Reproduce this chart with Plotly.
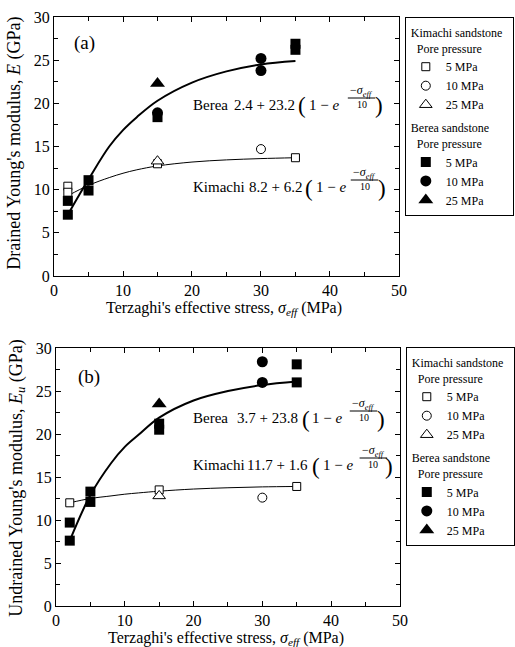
import plotly.graph_objects as go

W, H = 515, 647
SERIF = "Liberation Serif, Times New Roman, serif"

# ---------------- data ----------------
pore_labels = ["5 MPa", "10 MPa", "25 MPa"]

# Panel (a): drained Young's modulus E (GPa)
a_kim5_x = [2, 2, 15, 35]
a_kim5_y = [10.4, 9.7, 13.0, 13.7]
a_kim10_x = [30]
a_kim10_y = [14.7]
a_kim25_x = [15]
a_kim25_y = [13.3]
a_ber5_x = [2, 2, 5, 5, 15, 35, 35]
a_ber5_y = [8.7, 7.1, 11.1, 9.9, 18.4, 26.9, 26.2]
a_ber10_x = [15, 30, 30]
a_ber10_y = [18.9, 25.2, 23.8]
a_ber25_x = [15]
a_ber25_y = [22.3]

# Panel (b): undrained Young's modulus Eu (GPa)
b_kim5_x = [2, 15, 35]
b_kim5_y = [12.0, 13.5, 13.9]
b_kim10_x = [30]
b_kim10_y = [12.6]
b_kim25_x = [15]
b_kim25_y = [12.8]
b_ber5_x = [2, 2, 5, 5, 15, 15, 35, 35]
b_ber5_y = [9.7, 7.6, 13.3, 12.1, 21.2, 20.5, 28.1, 26.0]
b_ber10_x = [30, 30]
b_ber10_y = [28.4, 26.0]
b_ber25_x = [15]
b_ber25_y = [23.5]

# fitted curves
fit_x = [2, 5, 8, 10, 12, 15, 20, 25, 30, 35]
a_kim_fit_y = [9.3, 10.5, 11.4, 11.9, 12.3, 12.75, 13.2, 13.45, 13.6, 13.7]
a_ber_fit_y = [7.1, 11.2, 15.0, 16.9, 18.4, 20.3, 22.4, 23.7, 24.5, 24.9]
b_kim_fit_y = [12.0, 12.5, 12.8, 13.0, 13.15, 13.35, 13.6, 13.75, 13.85, 13.9]
b_ber_fit_y = [7.6, 12.9, 16.6, 18.5, 19.9, 21.9, 23.9, 25.0, 25.7, 26.1]

# formula texts
a_ber_label, a_ber_nums = "Berea", "2.4 + 23.2"
a_kim_label, a_kim_nums = "Kimachi", "8.2 + 6.2"
b_ber_label, b_ber_nums = "Berea", "3.7 + 23.8"
b_kim_label, b_kim_nums = "Kimachi", "11.7 + 1.6"


def px(x):
    return x / W


def py(y):
    return 1 - y / H


fig = go.Figure()

# ---- fitted curves ----
for xa, ya, yv, wdt in [("x", "y", a_kim_fit_y, 1), ("x", "y", a_ber_fit_y, 2),
                        ("x2", "y2", b_kim_fit_y, 1), ("x2", "y2", b_ber_fit_y, 2)]:
    fig.add_trace(go.Scatter(x=fit_x, y=yv, xaxis=xa, yaxis=ya, mode="lines",
                             line=dict(color="black", width=wdt, shape="spline", smoothing=1.0),
                             showlegend=False, hoverinfo="skip"))

symbols = ["square", "circle", "triangle-up"]
sizes = [9, 10, 12]

panels = [
    ("x", "y", "legend",
     [(a_kim5_x, a_kim5_y), (a_kim10_x, a_kim10_y), (a_kim25_x, a_kim25_y)],
     [(a_ber5_x, a_ber5_y), (a_ber10_x, a_ber10_y), (a_ber25_x, a_ber25_y)]),
    ("x2", "y2", "legend2",
     [(b_kim5_x, b_kim5_y), (b_kim10_x, b_kim10_y), (b_kim25_x, b_kim25_y)],
     [(b_ber5_x, b_ber5_y), (b_ber10_x, b_ber10_y), (b_ber25_x, b_ber25_y)]),
]

gt_font = dict(family=SERIF, size=12, color="black")
for xa, ya, leg, kim, ber in panels:
    for i, (xs, ys) in enumerate(kim):
        fig.add_trace(go.Scatter(
            x=xs, y=ys, xaxis=xa, yaxis=ya, mode="markers", name=pore_labels[i],
            legend=leg, legendgroup="kim" + leg,
            legendgrouptitle=dict(text="Kimachi sandstone<br>\u00a0\u00a0Pore pressure", font=gt_font) if i == 0 else None,
            marker=dict(symbol=symbols[i], size=sizes[i] - 1,
                        color="white", line=dict(color="black", width=1))))
    for i, (xs, ys) in enumerate(ber):
        fig.add_trace(go.Scatter(
            x=xs, y=ys, xaxis=xa, yaxis=ya, mode="markers", name=pore_labels[i],
            legend=leg, legendgroup="ber" + leg,
            legendgrouptitle=dict(text="Berea sandstone<br>\u00a0\u00a0Pore pressure", font=gt_font) if i == 0 else None,
            marker=dict(symbol=symbols[i], size=sizes[i] + 1,
                        color="black", line=dict(color="black", width=0))))

tickfont = dict(family=SERIF, size=16, color="black")
common = dict(showline=True, linecolor="black", linewidth=1, mirror="ticks",
              ticks="inside", ticklen=5, tickcolor="black", showgrid=False,
              zeroline=False, tickfont=tickfont, automargin=False)
xcommon = dict(common, range=[0, 50], tick0=0, dtick=10,
               minor=dict(dtick=5, ticks="inside", ticklen=4, tickcolor="black"))
ycommon = dict(common, range=[0, 30], tick0=0, dtick=5,
               minor=dict(dtick=2.5, ticks="inside", ticklen=4, tickcolor="black"))

legend_common = dict(font=dict(family=SERIF, size=12, color="black"), bgcolor="white",
                     bordercolor="black", borderwidth=1, xanchor="left", yanchor="top",
                     tracegroupgap=4, traceorder="grouped")

fig.update_layout(
    width=W, height=H, margin=dict(l=0, r=0, t=0, b=0),
    paper_bgcolor="white", plot_bgcolor="white",
    xaxis=dict(xcommon, domain=[px(55), px(406)], anchor="y"),
    yaxis=dict(ycommon, domain=[py(276), py(17)], anchor="x"),
    xaxis2=dict(xcommon, domain=[px(57), px(407)], anchor="y2"),
    yaxis2=dict(ycommon, domain=[py(606), py(348)], anchor="x2"),
    legend=dict(legend_common, x=px(412), y=py(17)),
    legend2=dict(legend_common, x=px(413), y=py(347)),
)

ann = []
shapes = []


def text(t, x, y, size=15, xanchor="center", angle=0, family=SERIF):
    ann.append(dict(text=t, x=px(x), y=py(y), xref="paper", yref="paper",
                    xanchor=xanchor, yanchor="middle", showarrow=False, textangle=angle,
                    font=dict(family=family, size=size, color="black")))


# axis titles
xt = "Terzaghi's effective stress, <i>σ<sub>eff</sub></i> (MPa)"
text(xt, 228, 308, size=16)
text(xt, 230, 638, size=16)
text("Drained Young's modulus, <i>E</i> (GPa)", 15, 143, size=18, angle=-90)
text("Undrained Young's modulus, <i>E<sub>u</sub></i> (GPa)", 17, 478, size=18, angle=-90)

# panel labels
text("(a)", 86, 43, size=19)
text("(b)", 91, 377, size=19)


def formula(label, nums, y, nums_right, paren_l, one_left, frac_c, paren_r):
    text(label, 194, y, xanchor="left")
    text(nums, nums_right, y, size=15, xanchor="right")
    text("(", paren_l, y + 1, size=23)
    text("1 − <i>e</i>", one_left, y, xanchor="left")
    text("−<i>σ</i><sub><i>eff</i></sub>", frac_c, y - 14, size=12)
    text("10", frac_c, y - 1, size=10)
    shapes.append(dict(type="line", xref="paper", yref="paper",
                       x0=px(frac_c - 14), x1=px(frac_c + 14), y0=py(y - 7), y1=py(y - 7),
                       line=dict(color="black", width=1)))
    text(")", paren_r, y + 1, size=23)


formula(a_ber_label, a_ber_nums, 105, 302, 307, 312, 368, 386)
formula(a_kim_label, a_kim_nums, 187, 309, 315, 320, 371, 389)
formula(b_ber_label, b_ber_nums, 418, 305, 311, 316, 370, 388)
formula(b_kim_label, b_kim_nums, 465, 316, 322, 327, 380, 396)

fig.update_layout(annotations=ann, shapes=shapes)
fig.write_html("out.html", config={"displayModeBar": False},
               post_script="document.body.style.margin='0px';document.body.style.padding='0px';")
